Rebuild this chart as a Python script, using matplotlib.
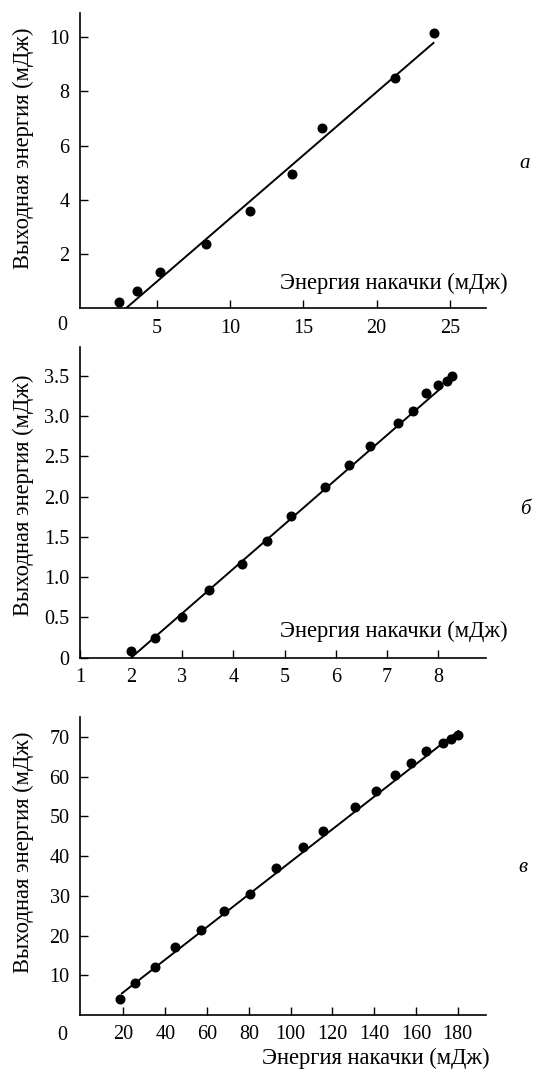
import matplotlib
matplotlib.use("Agg")
import matplotlib.pyplot as plt

plt.rcParams['font.family'] = ['Liberation Serif', 'DejaVu Serif']
plt.rcParams['font.size'] = 14.5

# panel a
a_x = [2.44, 3.67, 5.26, 8.36, 11.37, 14.2, 16.3, 21.25, 23.92]
a_y = [0.22, 0.65, 1.35, 2.38, 3.6, 4.97, 6.66, 8.51, 10.17]
a_fit_x = [2.91, 23.92]
a_fit_y = [0.0, 9.81]

# panel b
b_x = [2.00, 2.46, 3.00, 3.52, 4.17, 4.65, 5.12, 5.78, 6.25, 6.67,
       7.21, 7.50, 7.76, 8.00, 8.17, 8.27]
b_y = [0.08, 0.25, 0.50, 0.84, 1.16, 1.45, 1.76, 2.12, 2.39, 2.63,
       2.91, 3.06, 3.28, 3.39, 3.43, 3.50]
b_fit_x = [2.0, 8.1]
b_fit_y = [0.0, 3.37]

# panel c
c_x = [18.4, 25.3, 35.0, 44.6, 57.2, 68.1, 80.8, 93.0, 105.8, 115.5,
       130.7, 140.9, 149.8, 157.7, 164.8, 172.8, 177.0, 180.0]
c_y = [3.9, 8.0, 12.0, 17.2, 21.4, 26.1, 30.4, 36.9, 42.2, 46.2,
       52.3, 56.3, 60.3, 63.4, 66.4, 68.5, 69.4, 70.5]
c_fit_x = [18.9, 180.7]
c_fit_y = [5.3, 71.6]

xlabel = "Энергия накачки (мДж)"
ylabel = "Выходная энергия (мДж)"
label_size = 16.3

W, H = 533, 1072
fig = plt.figure(figsize=(W / 100, H / 100), dpi=100)


def px_rect(left, top, right, bottom):
    return [left / W, 1 - bottom / H, (right - left) / W, (bottom - top) / H]


def style(ax):
    for s in ['top', 'right']:
        ax.spines[s].set_visible(False)
    for s in ['left', 'bottom']:
        ax.spines[s].set_linewidth(1.2)
    ax.tick_params(direction='in', length=5.5, width=1.0, pad=7.5, labelsize=14.5)


def draw(ax, x, y, fx, fy):
    ax.plot(fx, fy, color='black', lw=1.4, solid_capstyle='butt')
    ax.plot(x, y, 'o', color='black', ms=6.2, clip_on=False)


# a
ax1 = fig.add_axes(px_rect(80, 13, 485.7, 308.3))
style(ax1)
draw(ax1, a_x, a_y, a_fit_x, a_fit_y)
ax1.set_xlim(-0.22, 27.43)
ax1.set_ylim(0, 10.89)
ax1.set_xticks([5, 10, 15, 20, 25])
ax1.set_yticks([2, 4, 6, 8, 10])
fig.text(62 / W, 1 - 325 / H, "0", ha='center', va='center')
fig.text(508 / W, 1 - 283 / H, xlabel, ha='right', va='center', fontsize=label_size)
fig.text(23 / W, 1 - 148 / H, ylabel, rotation=90, ha='center', va='center', fontsize=label_size)
fig.text(525 / W, 1 - 163 / H, "а", style='italic', ha='center', va='center', fontsize=15)

# b
ax2 = fig.add_axes(px_rect(80, 346.7, 485.7, 657.7))
style(ax2)
draw(ax2, b_x, b_y, b_fit_x, b_fit_y)
ax2.set_xlim(1, 8.93)
ax2.set_ylim(0, 3.86)
ax2.set_xticks([1, 2, 3, 4, 5, 6, 7, 8])
ax2.set_yticks([0, 0.5, 1.0, 1.5, 2.0, 2.5, 3.0, 3.5])
ax2.set_yticklabels(["0", "0.5", "1.0", "1.5", "2.0", "2.5", "3.0", "3.5"])
fig.text(508 / W, 1 - 631.7 / H, xlabel, ha='right', va='center', fontsize=label_size)
fig.text(23 / W, 1 - 495 / H, ylabel, rotation=90, ha='center', va='center', fontsize=label_size)
fig.text(525 / W, 1 - 510 / H, "б", style='italic', ha='center', va='center', fontsize=15)

# c
ax3 = fig.add_axes(px_rect(80, 717.3, 485.7, 1015))
style(ax3)
draw(ax3, c_x, c_y, c_fit_x, c_fit_y)
ax3.set_xlim(-0.8, 193.4)
ax3.set_ylim(0, 74.9)
ax3.set_xticks([20, 40, 60, 80, 100, 120, 140, 160, 180])
ax3.set_yticks([10, 20, 30, 40, 50, 60, 70])
fig.text(62 / W, 1 - 1035 / H, "0", ha='center', va='center')
fig.text(490 / W, 1 - 1058 / H, xlabel, ha='right', va='center', fontsize=label_size)
fig.text(23 / W, 1 - 852 / H, ylabel, rotation=90, ha='center', va='center', fontsize=label_size)
fig.text(523 / W, 1 - 867 / H, "в", style='italic', ha='center', va='center', fontsize=15)

fig.savefig("out.png", dpi=100)
